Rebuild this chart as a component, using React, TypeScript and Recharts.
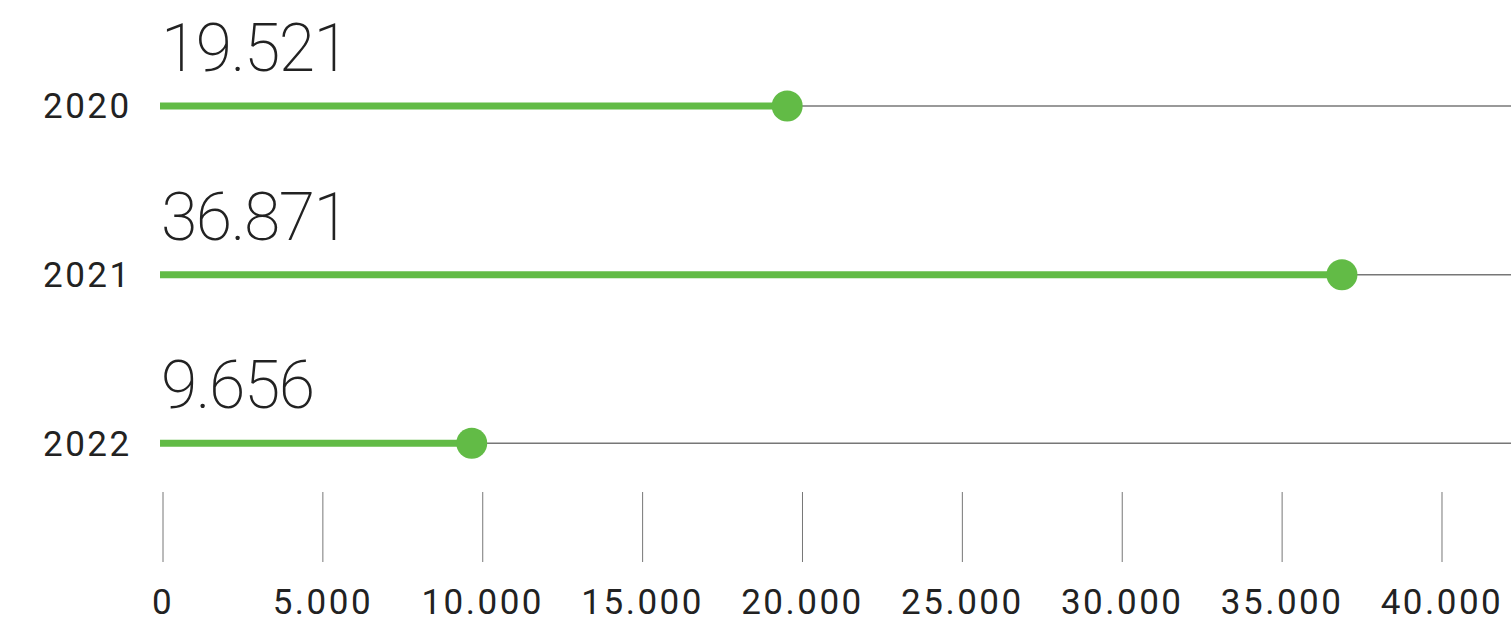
import React from "react";
import { BarChart, Bar, XAxis, YAxis, LabelList } from "recharts";

const years = ["2020", "2021", "2022"];
const values = [19521, 36871, 9656];
const xTicks = [0, 5000, 10000, 15000, 20000, 25000, 30000, 35000, 40000];

const data = years.map((year, i) => ({ year, value: values[i] }));

const GREEN = "#62bb46";
const FONT = "Roboto, 'Noto Sans', sans-serif";

const fmt = (v: number) => v.toLocaleString("de-DE");

const Lollipop = (props: any) => {
  const { x, y, width, height, background } = props;
  const cy = y + height / 2;
  const end = x + width;
  const right = background.x + background.width;
  return (
    <g>
      <line x1={end} y1={cy} x2={right} y2={cy} stroke="#777" strokeWidth={1.5} />
      <line x1={x - 3} y1={cy} x2={end} y2={cy} stroke={GREEN} strokeWidth={7} />
      <circle cx={end} cy={cy} r={15.5} fill={GREEN} />
    </g>
  );
};

const ValueLabel = (props: any) => {
  const { x, y, height, value } = props;
  return (
    <text
      x={x - 2}
      y={y + height / 2 - 35}
      fill="#222"
      fontFamily={FONT}
      fontWeight={200}
      fontSize={66}
      letterSpacing={-1.5}
    >
      {fmt(value)}
    </text>
  );
};

const YearTick = (props: any) => {
  const { y, payload } = props;
  return (
    <text x={43} y={y} dy={12} fill="#222" fontFamily={FONT} fontSize={35} letterSpacing={2.5}>
      {payload.value}
    </text>
  );
};

const XTick = (props: any) => {
  const { x, y, payload } = props;
  return (
    <g>
      <line x1={x} y1={y - 36} x2={x} y2={y + 34} stroke="#777" strokeWidth={1} />
      <text
        x={x}
        y={y + 86}
        textAnchor="middle"
        fill="#222"
        fontFamily={FONT}
        fontSize={35}
        letterSpacing={2.5}
      >
        {fmt(payload.value)}
      </text>
    </g>
  );
};

export default function App() {
  return (
    <div style={{ position: "absolute", left: 0, top: 0, background: "#fff" }}>
      <BarChart
        width={1511}
        height={624}
        data={data}
        layout="vertical"
        margin={{ top: 22, right: 0, left: 0, bottom: 0 }}
      >
        <XAxis
          type="number"
          domain={[0, 42158]}
          ticks={xTicks}
          height={96}
          axisLine={false}
          tickLine={false}
          tickSize={0}
          tickMargin={0}
          interval={0}
          tick={<XTick />}
        />
        <YAxis
          type="category"
          dataKey="year"
          width={163}
          axisLine={false}
          tickLine={false}
          tick={<YearTick />}
        />
        <Bar
          dataKey="value"
          barSize={30}
          background={{ fill: "transparent" }}
          shape={<Lollipop />}
          isAnimationActive={false}
        >
          <LabelList dataKey="value" content={<ValueLabel />} />
        </Bar>
      </BarChart>
    </div>
  );
}
